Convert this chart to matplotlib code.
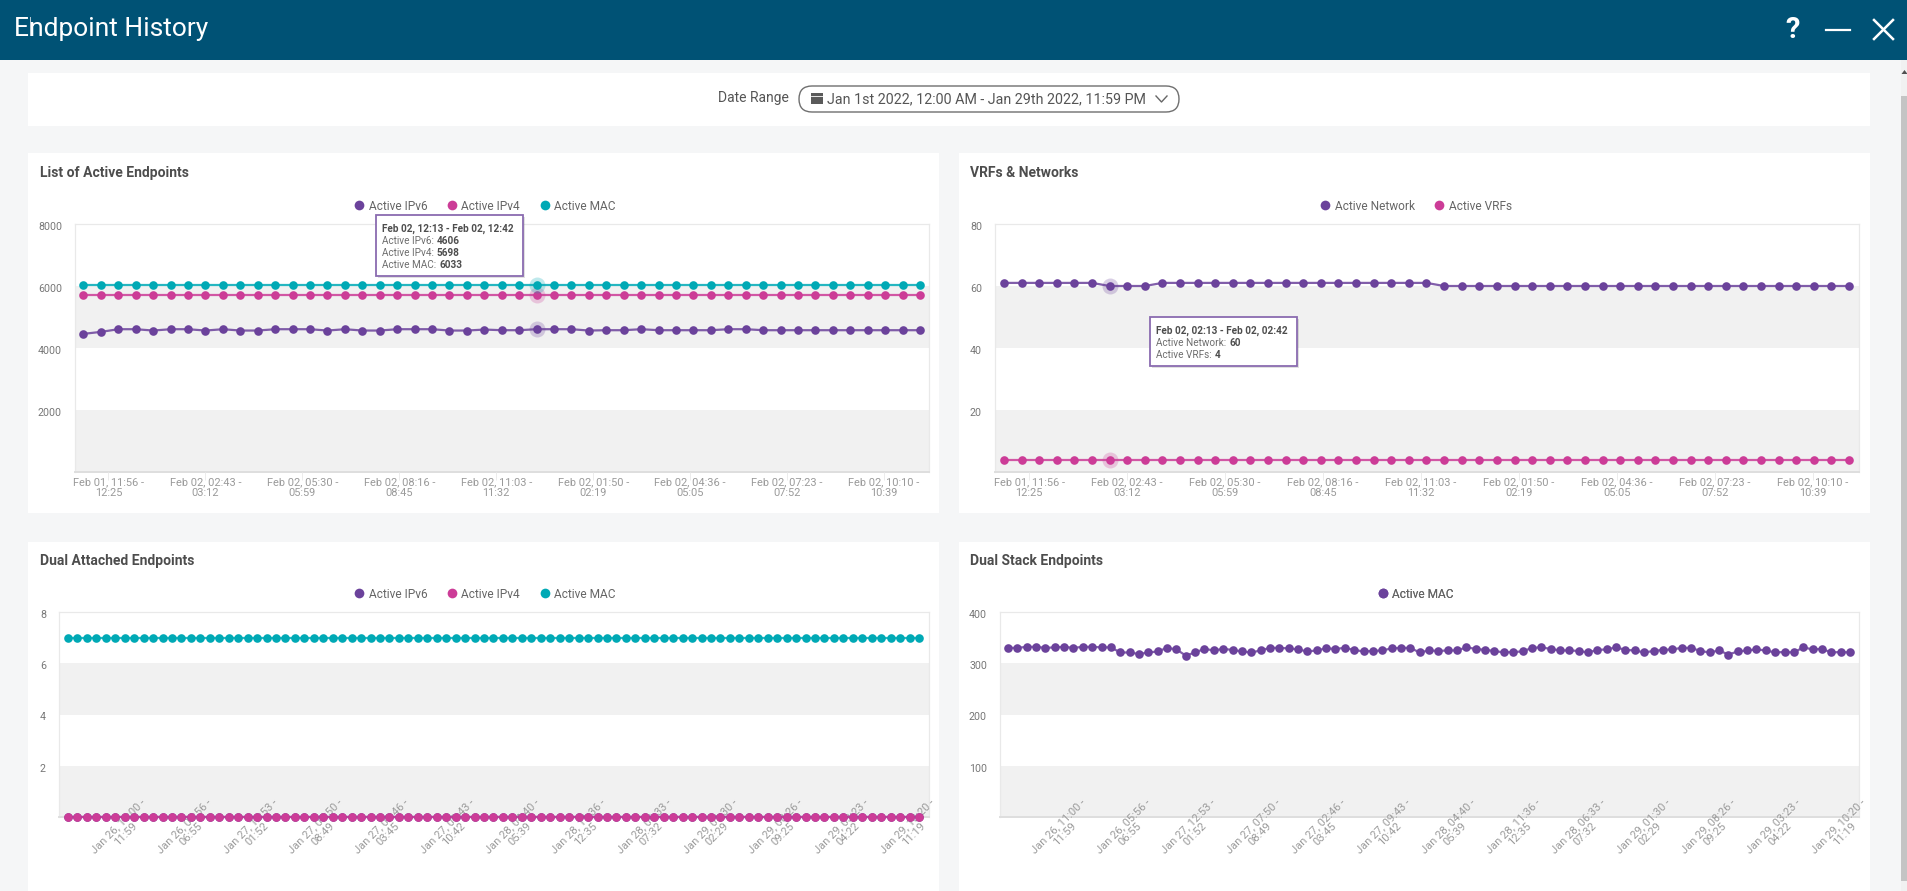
import matplotlib
matplotlib.use("Agg")
import matplotlib.pyplot as plt
from matplotlib.lines import Line2D
from matplotlib.patches import Rectangle, FancyBboxPatch, Polygon
from matplotlib.transforms import Affine2D

plt.rcParams['font.family'] = ['Roboto', 'DejaVu Sans']

PURPLE, PINK, TEAL = '#6b429b', '#cc3c97', '#00a9b5'
HEADER = '#005275'
PAGE = '#f5f6f7'
BAND = '#f1f1f1'
FRAME = '#e9e9e9'
TICKC = '#9a9a9a'

# ---------- data ----------
active_ipv6 = [4456, 4520, 4606, 4606, 4563, 4606, 4606, 4563, 4606, 4563, 4563, 4606, 4606, 4606, 4563,
               4606, 4563, 4563, 4606, 4606, 4606, 4563, 4563, 4595, 4574, 4574, 4606, 4606, 4606, 4563,
               4574, 4574, 4606, 4574, 4574, 4574, 4574, 4606, 4606, 4574, 4574, 4574, 4574, 4574, 4574,
               4574, 4574, 4574, 4574]
active_ipv4 = [5698, 5698, 5698, 5698, 5698, 5698, 5698, 5698, 5698, 5698, 5698, 5698, 5698, 5698, 5698,
               5698, 5698, 5698, 5698, 5698, 5698, 5698, 5698, 5698, 5698, 5698, 5698, 5698, 5698, 5698,
               5698, 5698, 5698, 5698, 5698, 5698, 5698, 5698, 5698, 5698, 5698, 5698, 5698, 5698, 5698,
               5698, 5698, 5698, 5698]
active_mac = [6033, 6033, 6033, 6033, 6033, 6033, 6033, 6033, 6033, 6033, 6033, 6033, 6033, 6033, 6033,
              6033, 6033, 6033, 6033, 6033, 6033, 6033, 6033, 6033, 6033, 6033, 6033, 6033, 6033, 6033,
              6033, 6033, 6033, 6033, 6033, 6033, 6033, 6033, 6033, 6033, 6033, 6033, 6033, 6033, 6033,
              6033, 6033, 6033, 6033]
active_network = [61, 61, 61, 61, 61, 61, 60, 60, 60, 61, 61, 61, 61, 61, 61, 61, 61, 61, 61, 61, 61, 61, 61,
                  61, 61, 60, 60, 60, 60, 60, 60, 60, 60, 60, 60, 60, 60, 60, 60, 60, 60, 60, 60, 60, 60, 60,
                  60, 60, 60]
active_vrfs = [4, 4, 4, 4, 4, 4, 4, 4, 4, 4, 4, 4, 4, 4, 4, 4, 4, 4, 4, 4, 4, 4, 4, 4, 4, 4, 4, 4, 4, 4, 4, 4,
               4, 4, 4, 4, 4, 4, 4, 4, 4, 4, 4, 4, 4, 4, 4, 4, 4]
dual_ipv6 = [0, 0, 0, 0, 0, 0, 0, 0, 0, 0, 0, 0, 0, 0, 0, 0, 0, 0, 0, 0, 0, 0, 0, 0, 0, 0, 0, 0, 0, 0,
             0, 0, 0, 0, 0, 0, 0, 0, 0, 0, 0, 0, 0, 0, 0, 0, 0, 0, 0, 0, 0, 0, 0, 0, 0, 0, 0, 0, 0, 0,
             0, 0, 0, 0, 0, 0, 0, 0, 0, 0, 0, 0, 0, 0, 0, 0, 0, 0, 0, 0, 0, 0, 0, 0, 0, 0, 0, 0, 0, 0, 0]
dual_ipv4 = [0, 0, 0, 0, 0, 0, 0, 0, 0, 0, 0, 0, 0, 0, 0, 0, 0, 0, 0, 0, 0, 0, 0, 0, 0, 0, 0, 0, 0, 0,
             0, 0, 0, 0, 0, 0, 0, 0, 0, 0, 0, 0, 0, 0, 0, 0, 0, 0, 0, 0, 0, 0, 0, 0, 0, 0, 0, 0, 0, 0,
             0, 0, 0, 0, 0, 0, 0, 0, 0, 0, 0, 0, 0, 0, 0, 0, 0, 0, 0, 0, 0, 0, 0, 0, 0, 0, 0, 0, 0, 0, 0]
dual_mac = [7, 7, 7, 7, 7, 7, 7, 7, 7, 7, 7, 7, 7, 7, 7, 7, 7, 7, 7, 7, 7, 7, 7, 7, 7, 7, 7, 7, 7, 7,
            7, 7, 7, 7, 7, 7, 7, 7, 7, 7, 7, 7, 7, 7, 7, 7, 7, 7, 7, 7, 7, 7, 7, 7, 7, 7, 7, 7, 7, 7,
            7, 7, 7, 7, 7, 7, 7, 7, 7, 7, 7, 7, 7, 7, 7, 7, 7, 7, 7, 7, 7, 7, 7, 7, 7, 7, 7, 7, 7, 7, 7]
stack_mac = [330, 330, 332, 332, 330, 331, 332, 330, 332, 332, 331, 331, 321, 321, 318, 321, 323, 330, 327,
             315, 321, 328, 325, 328, 326, 323, 321, 325, 330, 330, 329, 327, 323, 325, 329, 328, 330, 326,
             323, 324, 325, 329, 330, 330, 321, 325, 324, 325, 325, 331, 328, 326, 324, 321, 322, 323, 330,
             331, 328, 325, 325, 324, 321, 326, 327, 331, 326, 325, 321, 324, 326, 327, 330, 330, 324, 321,
             325, 317, 323, 325, 327, 325, 321, 322, 321, 331, 327, 328, 321, 322, 321]

feb_labels = ["Feb 01, 11:56 -\n12:25", "Feb 02, 02:43 -\n03:12", "Feb 02, 05:30 -\n05:59",
              "Feb 02, 08:16 -\n08:45", "Feb 02, 11:03 -\n11:32", "Feb 02, 01:50 -\n02:19",
              "Feb 02, 04:36 -\n05:05", "Feb 02, 07:23 -\n07:52", "Feb 02, 10:10 -\n10:39"]
jan_labels = ["Jan 26, 11:00 -\n11:59", "Jan 26, 05:56 -\n06:55", "Jan 27, 12:53 -\n01:52",
              "Jan 27, 07:50 -\n08:49", "Jan 27, 02:46 -\n03:45", "Jan 27, 09:43 -\n10:42",
              "Jan 28, 04:40 -\n05:39", "Jan 28, 11:36 -\n12:35", "Jan 28, 06:33 -\n07:32",
              "Jan 29, 01:30 -\n02:29", "Jan 29, 08:26 -\n09:25", "Jan 29, 03:23 -\n04:22",
              "Jan 29, 10:20 -\n11:19"]
feb_ticks = [1.43, 7.0, 12.56, 18.12, 23.68, 29.25, 34.8, 40.37, 45.93]
jan_ticks = [5.7, 12.65, 19.6, 26.55, 33.5, 40.45, 47.4, 54.35, 61.3, 68.25, 75.2, 82.15, 89.1]

W, H = 1908, 891
fig = plt.figure(figsize=(W / 100, H / 100), dpi=100, facecolor=PAGE)


def full_axes(z):
    a = fig.add_axes([0, 0, 1, 1], zorder=z)
    a.set_xlim(0, W)
    a.set_ylim(H, 0)
    a.axis('off')
    a.patch.set_alpha(0)
    return a


bg = full_axes(0)
top = full_axes(10)

# page chrome
bg.add_patch(Rectangle((0, 0), W, 60, fc=HEADER, ec='none'))
bg.text(14, 29, "Endpoint History", color='white', fontsize=19, va='center', ha='left')
bg.plot([30.5, 30.5], [17, 35], color='#b9ccd6', lw=0.7)
bg.text(1792.5, 30, "?", color='white', fontsize=21, fontweight='bold', va='center', ha='center')
bg.plot([1826, 1850], [30, 30], color='white', lw=1.6)
bg.plot([1874, 1893], [20, 39], color='white', lw=1.8)
bg.plot([1874, 1893], [39, 20], color='white', lw=1.8)

# scrollbar
bg.add_patch(Rectangle((1901, 60), 7, 831, fc='#f1f1f1', ec='none'))
bg.add_patch(Rectangle((1901, 96), 7, 785, fc='#c4c4c4', ec='none'))
bg.add_patch(Polygon([[1904.5, 70], [1901.5, 74], [1907.5, 74]], fc='#505050', ec='none'))

CARDS = [(28, 73, 1870, 126), (28, 153, 939, 513), (959, 153, 1870, 513), (28, 542, 939, 891), (959, 542, 1870, 891)]
for x0, y0, x1, y1 in CARDS:
    bg.add_patch(Rectangle((x0, y0), x1 - x0, y1 - y0, fc='white', ec='none'))

# date range control
bg.text(718, 98, "Date Range", color='#555555', fontsize=10, va='center', ha='left')
bg.add_patch(FancyBboxPatch((799, 86), 380, 26, boxstyle="round,pad=0,rounding_size=13",
                            fc='white', ec='#6f6f6f', lw=1))
bg.add_patch(Rectangle((811, 93), 12, 11, fc='#5a5a5a', ec='none'))
bg.plot([811, 823], [96, 96], color='white', lw=0.6)
bg.text(827, 99, "Jan 1st 2022, 12:00 AM - Jan 29th 2022, 11:59 PM", color='#555555', fontsize=10.25,
        va='center', ha='left')
bg.plot([1156, 1161.5, 1167], [96, 102, 96], color='#666666', lw=1)


def panel(title, tx, ty, box, y_ticks, y_top, series, ticks, labels, first_px, last_px, legend_c,
          legend_y, rotated, halo=None):
    x0, y0, x1, y1 = box
    ax = fig.add_axes([x0 / W, 1 - y1 / H, (x1 - x0) / W, (y1 - y0) / H], zorder=2)
    n = len(series[0][1])
    step = (last_px - first_px) / (n - 1)
    ax.set_xlim(-(first_px - x0) / step, n - 1 + (x1 - last_px) / step)
    ax.set_ylim(0, y_top)
    ax.axhspan(0, y_ticks[0], color=BAND, lw=0, zorder=0)
    ax.axhspan(y_ticks[1], y_ticks[2], color=BAND, lw=0, zorder=0)
    ax.set_facecolor('white')
    xs = list(range(n))
    for name, vals, col in series:
        ax.plot(xs, vals, color=col, lw=1.6, alpha=0.85, zorder=3, clip_on=False)
        ax.plot(xs, vals, ls='none', marker='o', ms=6.2, mfc=col, mec='none', zorder=4, clip_on=False)
        if halo is not None:
            ax.plot([halo], [vals[halo]], ls='none', marker='o', ms=11.5, mfc=col, mec='none', alpha=0.25,
                    zorder=4, clip_on=False)
    for s in ax.spines.values():
        s.set_color(FRAME)
        s.set_linewidth(0.9)
    ax.spines['bottom'].set_color('#dedede')
    ax.spines['bottom'].set_linewidth(1.4)
    ax.set_yticks(y_ticks)
    ax.set_yticklabels([str(v) for v in y_ticks])
    ax.tick_params(axis='y', length=0, pad=9.4, labelsize=7.7, labelcolor='#777777')
    for t in ax.get_yticklabels():
        t.set_transform(t.get_transform() + Affine2D().translate(0, -2))
    ax.set_xticks(ticks)
    ax.set_axisbelow(False)
    ax.set_xticklabels(labels)
    if rotated:
        ax.tick_params(axis='x', length=0, pad=9.4, labelsize=8, labelcolor=TICKC)
        for t in ax.get_xticklabels():
            t.set_rotation(45)
            t.set_rotation_mode('anchor')
            t.set_ha('center')
            t.set_va('center')
            t.set_linespacing(1.0)
    else:
        ax.tick_params(axis='x', length=5.5, width=0.7, color='#ececec', pad=-1.5, labelsize=7.9, labelcolor=TICKC)
        for t in ax.get_xticklabels():
            t.set_linespacing(1.05)
    bg.text(tx, ty, title, color='#4d4d4d', fontsize=10, fontweight='bold', va='center', ha='left')
    handles = [Line2D([], [], ls='none', marker='o', ms=7, mfc=c, mec='none', label=nm) for nm, _, c in series]
    leg = top.legend(handles=handles, loc='center', bbox_to_anchor=(legend_c, legend_y),
                     bbox_transform=top.transData, ncol=len(series), frameon=False, fontsize=8.6,
                     handlelength=0.8, handletextpad=0.4, columnspacing=1.65, borderpad=0,
                     labelcolor='#666666')
    top.add_artist(leg)
    return ax


panel("List of Active Endpoints", 40, 173, (75, 224, 929, 472), [2000, 4000, 6000, 8000], 8000,
      [("Active IPv6", active_ipv6, PURPLE), ("Active IPv4", active_ipv4, PINK), ("Active MAC", active_mac, TEAL)],
      feb_ticks, feb_labels, 83.5, 920, 485, 206, False, halo=26)
panel("VRFs & Networks", 970, 173, (995, 224, 1859, 472), [20, 40, 60, 80], 80,
      [("Active Network", active_network, PURPLE), ("Active VRFs", active_vrfs, PINK)],
      feb_ticks, feb_labels, 1004, 1849, 1416, 206, False, halo=6)
panel("Dual Attached Endpoints", 40, 561, (59, 612, 929, 817), [2, 4, 6, 8], 8,
      [("Active IPv6", dual_ipv6, PURPLE), ("Active IPv4", dual_ipv4, PINK), ("Active MAC", dual_mac, TEAL)],
      jan_ticks, jan_labels, 68, 919, 485, 594, True)
panel("Dual Stack Endpoints", 970, 561, (1000, 612, 1859, 817), [100, 200, 300, 400], 400,
      [("Active MAC", stack_mac, PURPLE)],
      jan_ticks, jan_labels, 1008, 1850, 1416, 594, True)


def tooltip(box, header, rows):
    x0, y0, x1, y1 = box
    top.add_patch(Rectangle((x0 + 2, y0 + 2), x1 - x0, y1 - y0, fc='#000000', ec='none', alpha=0.12))
    top.add_patch(Rectangle((x0, y0), x1 - x0, y1 - y0, fc='white', ec='#8a6bb0', lw=1.3))
    tx = x0 + 6
    ty = y0 + 17
    top.text(tx, ty, header, color='#4d4d4d', fontsize=7.2, fontweight='bold', va='baseline', ha='left')
    rend = fig.canvas.get_renderer()
    for i, (lab, val) in enumerate(rows):
        yy = ty + 12 * (i + 1)
        t = top.text(tx, yy, lab + ":", color='#6e6e6e', fontsize=7.2, va='baseline', ha='left')
        w = t.get_window_extent(rend).width
        top.text(tx + w + 3, yy, val, color='#4d4d4d', fontsize=7.2, fontweight='bold', va='baseline', ha='left')


tooltip((376, 215, 523, 276), "Feb 02, 12:13 - Feb 02, 12:42",
        [("Active IPv6", "4606"), ("Active IPv4", "5698"), ("Active MAC", "6033")])
tooltip((1150, 317, 1297, 366), "Feb 02, 02:13 - Feb 02, 02:42",
        [("Active Network", "60"), ("Active VRFs", "4")])

fig.savefig("out.png", dpi=100, facecolor=PAGE)
